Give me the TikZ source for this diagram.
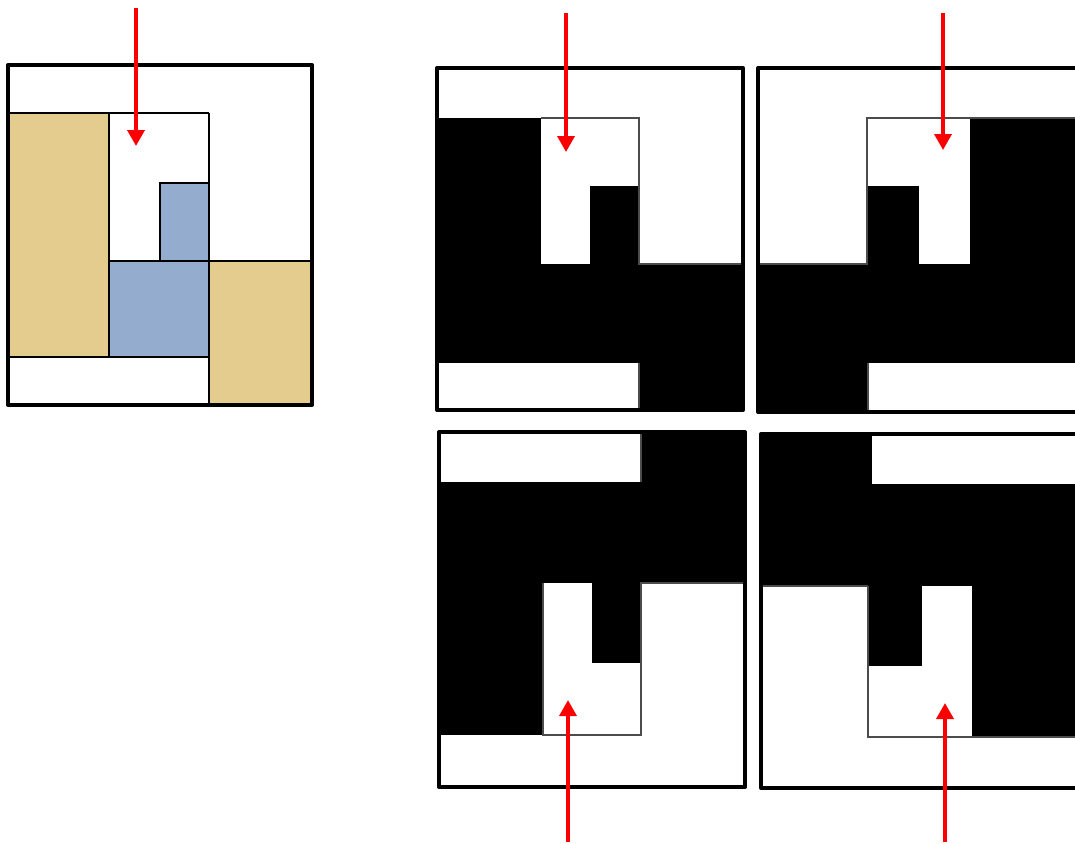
\documentclass[tikz,border=0pt]{standalone}
\usepackage{tikz}
\usepackage{xcolor}
\usetikzlibrary{arrows.meta}
\definecolor{Tan}{RGB}{227,204,141}
\definecolor{Slate}{RGB}{148,172,206}
\definecolor{Probe}{RGB}{250,0,0}

\begin{document}
\begin{tikzpicture}[
    x=0.5pt, y=-0.5pt,
    frame/.style={line width=2pt, line join=round},
    edge/.style={line width=0.6pt},
    seam/.style={line width=0.6pt, gray!60!black},
    probe/.style={Probe, line width=1.8pt, -{Triangle[length=8pt,width=8.5pt]}}
]
  \useasboundingbox (0,0) rectangle (1075,843);
  \clip (0,0) rectangle (1075,843);

  % coloured template
  \fill[Tan] (8,113) rectangle (109,357);
  \fill[Tan] (209,261) rectangle (312,405);
  \fill[Slate] (109,261) rectangle (209,357);
  \fill[Slate] (160,183) rectangle (209,261);
  \draw[edge] (8,113) -- (209,113);
  \draw[edge] (109,113) -- (109,357);
  \draw[edge] (209,113) -- (209,405);
  \draw[edge] (109,261) -- (312,261);
  \draw[edge] (8,357) -- (209,357);
  \draw[edge] (160,261) -- (160,183) -- (209,183);
  \draw[frame] (8,65) rectangle (312,405);

  % top left mask
  \fill (437,118) rectangle (541,363);
  \fill (541,264) rectangle (743,363);
  \fill (590,186) rectangle (639,264);
  \fill (639,363) rectangle (743,410);
  \draw[seam] (541,118) -- (639,118) -- (639,264) -- (743,264);
  \draw[seam] (639,363) -- (639,410);
  \draw[frame] (437,68) rectangle (743,410);

  % top right mask
  \fill (970,118) rectangle (1075,264);
  \fill (867,186) rectangle (919,264);
  \fill (758,264) rectangle (1075,363);
  \fill (758,363) rectangle (868,412);
  \draw[seam] (758,264) -- (867,264) -- (867,118) -- (1075,118);
  \draw[seam] (868,363) -- (868,412);
  \draw[frame] (758,68) rectangle (1085,412);

  % bottom left mask
  \fill (641,432) rectangle (745,482);
  \fill (439,482) rectangle (745,583);
  \fill (439,583) rectangle (543,735);
  \fill (592,583) rectangle (641,663);
  \draw[seam] (641,432) -- (641,482);
  \draw[seam] (543,583) -- (543,735) -- (641,735) -- (641,583) -- (745,583);
  \draw[frame] (439,432) rectangle (745,787);

  % bottom right mask
  \fill (761,434) rectangle (872,484);
  \fill (761,484) rectangle (1075,586);
  \fill (868,586) rectangle (922,666);
  \fill (972,586) rectangle (1075,737);
  \draw[seam] (761,586) -- (868,586);
  \draw[seam] (868,586) -- (868,737) -- (1075,737);
  \draw[frame] (761,434) rectangle (1085,788);

  % probes
  \coordinate (tailL) at (136,8);   \coordinate (tipL) at (136,146);
  \coordinate (tailA) at (566,13);  \coordinate (tipA) at (566,152);
  \coordinate (tailB) at (943,13);  \coordinate (tipB) at (943,150);
  \coordinate (tailC) at (568,842); \coordinate (tipC) at (568,700);
  \coordinate (tailD) at (945,842); \coordinate (tipD) at (945,703);
  \foreach \p in {L,A,B,C,D} {
    \draw[probe] (tail\p) -- (tip\p);
  }
\end{tikzpicture}
\end{document}
